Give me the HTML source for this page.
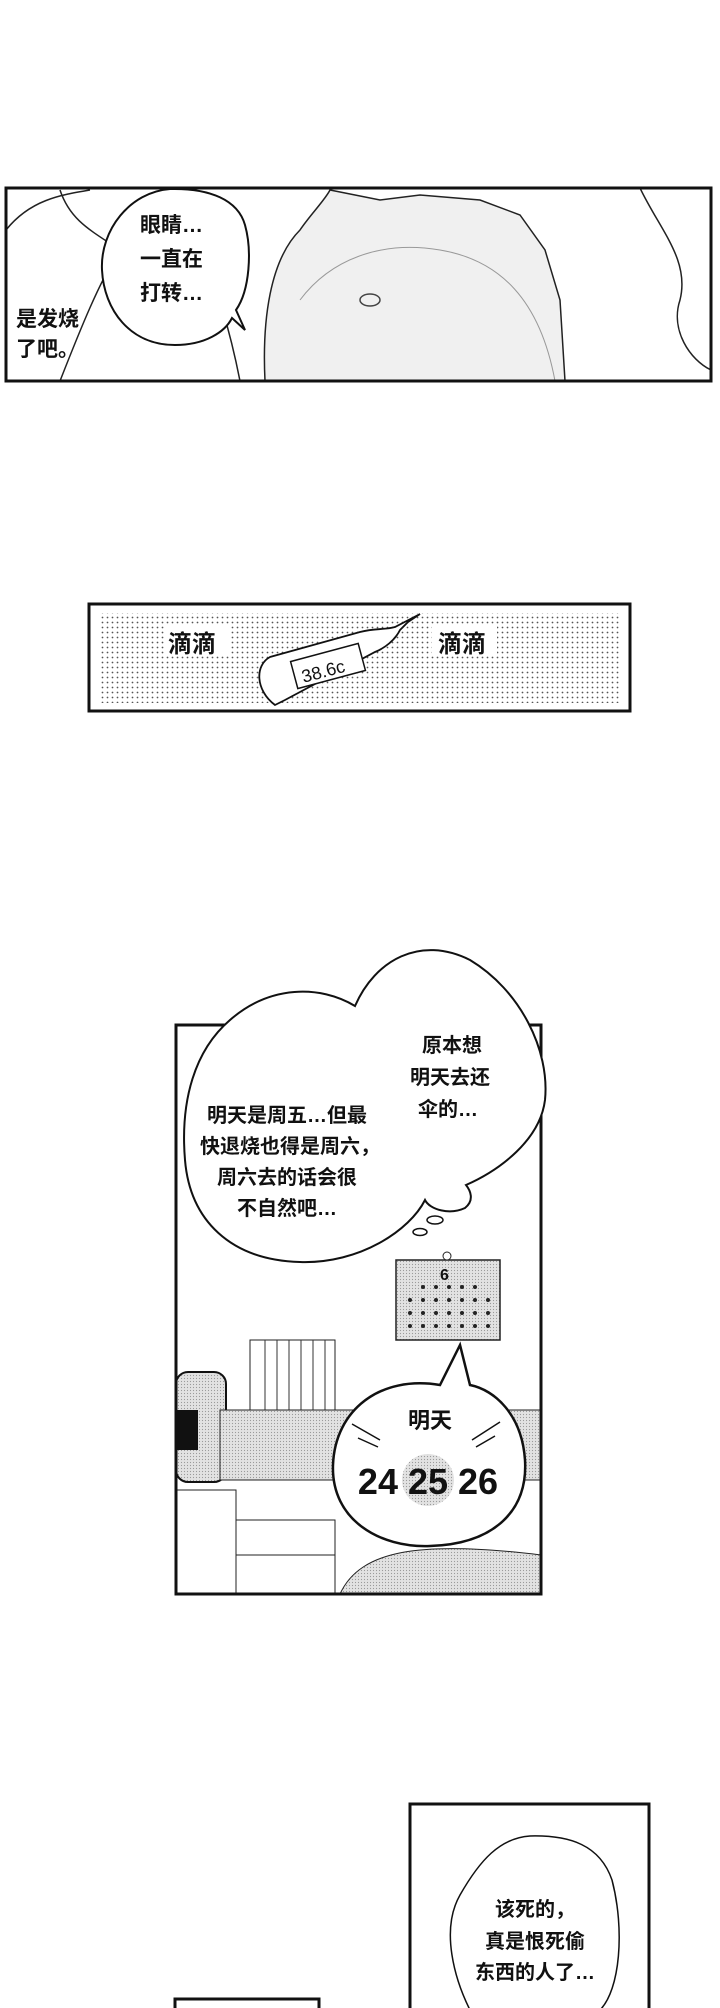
<!DOCTYPE html>
<html><head><meta charset="utf-8"><style>
html,body{margin:0;padding:0;background:#fff;}
svg{display:block;}
text{font-family:"Liberation Sans","Noto Sans CJK SC",sans-serif;fill:#111;}
</style></head><body>
<svg width="720" height="2008" viewBox="0 0 720 2008" xmlns="http://www.w3.org/2000/svg">
<defs>
<pattern id="dots" width="5" height="5" patternUnits="userSpaceOnUse"><circle cx="2.5" cy="2.5" r="0.9" fill="#555"/></pattern>
<pattern id="gray" width="3" height="3" patternUnits="userSpaceOnUse"><rect width="3" height="3" fill="#e2e2e2"/><circle cx="1.5" cy="1.5" r="0.6" fill="#999"/></pattern>
<clipPath id="c1"><rect x="6" y="188" width="705" height="193"/></clipPath>
<clipPath id="c3"><rect x="176" y="1025" width="365" height="569"/></clipPath>
</defs>
<!-- Panel 1 -->
<g clip-path="url(#c1)">
<rect x="6" y="188" width="705" height="193" fill="#fff"/>
<path d="M265 381 C262 320 270 260 300 230 C310 215 325 200 330 190 L380 200 L420 195 L480 200 L520 215 L545 250 L560 300 L565 381 Z" fill="#f0f0f0" stroke="#222" stroke-width="1.5"/>
<path d="M300 300 C330 260 380 240 440 250 C500 260 540 300 555 381" fill="none" stroke="#999"/>
<ellipse cx="370" cy="300" rx="10" ry="6" fill="none" stroke="#444" stroke-width="1.5"/>
<path d="M640 188 C660 230 690 260 680 300 C670 330 690 360 711 370" fill="none" stroke="#222" stroke-width="1.5"/>
<path d="M6 230 C30 200 60 195 90 190 M60 381 C80 330 100 280 120 250 C90 230 70 220 60 190" fill="none" stroke="#222" stroke-width="1.5"/>
<path d="M240 381 C230 330 215 280 200 250" fill="none" stroke="#222" stroke-width="1.5"/>
</g>
<path d="M170 189 C130 192 100 230 102 270 C104 310 130 345 175 345 C205 345 225 332 232 318 L245 330 L236 310 C250 290 252 250 245 225 C238 200 210 188 170 189 Z" fill="#fff" stroke="#111" stroke-width="2"/>
<rect x="6" y="188" width="705" height="193" fill="none" stroke="#111" stroke-width="3"/>
<g font-size="21" font-weight="bold">
<text x="140" y="232">眼睛…</text>
<text x="140" y="266">一直在</text>
<text x="140" y="300">打转…</text>
<text x="16" y="326">是发烧</text>
<text x="16" y="356">了吧。</text>
</g>
<!-- Panel 2 -->
<rect x="89" y="604" width="541" height="107" fill="#fff" stroke="#111" stroke-width="3"/>
<rect x="100" y="613" width="520" height="90" fill="url(#dots)"/>
<rect x="165" y="625" width="65" height="30" fill="#fff"/>
<rect x="432" y="625" width="65" height="30" fill="#fff"/>
<path d="M275 705 C255 690 255 665 270 657 L360 632 C375 628 385 630 395 627 L420 614 L408 622 L400 630 C395 640 385 648 375 652 L285 700 Z" fill="#fff" stroke="#111" stroke-width="1.8"/>
<rect x="293" y="652" width="70" height="28" transform="rotate(-15 328 666)" fill="#fff" stroke="#111" stroke-width="1.5"/>
<text x="300" y="676" font-size="18" transform="rotate(-15 328 666)" font-family="Liberation Mono">38.6c</text>
<g font-size="24" font-weight="bold"><text x="168" y="652">滴滴</text><text x="438" y="652">滴滴</text></g>
<!-- Panel 3 -->
<g clip-path="url(#c3)">
<rect x="176" y="1025" width="365" height="569" fill="#fff"/>
<rect x="250" y="1340" width="85" height="70" fill="#fff" stroke="#222"/>
<path d="M265 1340 V1410 M277 1340 V1410 M289 1340 V1410 M301 1340 V1410 M313 1340 V1410 M325 1340 V1410" stroke="#333"/>
<rect x="176" y="1372" width="50" height="110" rx="12" fill="url(#gray)" stroke="#111" stroke-width="2"/>
<rect x="176" y="1410" width="22" height="40" fill="#111"/>
<rect x="220" y="1410" width="321" height="70" fill="url(#gray)" stroke="#222"/>
<rect x="235" y="1520" width="100" height="74" fill="#fff" stroke="#222"/>
<line x1="235" y1="1555" x2="335" y2="1555" stroke="#222"/>
<rect x="176" y="1490" width="60" height="104" fill="#fff" stroke="#222"/>
<path d="M340 1594 C360 1550 420 1540 541 1555 V1594 Z" fill="url(#gray)" stroke="#222"/>
<rect x="396" y="1260" width="104" height="80" fill="url(#gray)" stroke="#222" stroke-width="1.5"/>
<circle cx="447" cy="1256" r="4" fill="#fff" stroke="#222"/>
<text x="440" y="1280" font-size="16" font-weight="bold">6</text>
<g fill="#222">
<circle cx="410" cy="1300" r="2"/><circle cx="423" cy="1300" r="2"/><circle cx="436" cy="1300" r="2"/><circle cx="449" cy="1300" r="2"/><circle cx="462" cy="1300" r="2"/><circle cx="475" cy="1300" r="2"/><circle cx="488" cy="1300" r="2"/>
<circle cx="410" cy="1313" r="2"/><circle cx="423" cy="1313" r="2"/><circle cx="436" cy="1313" r="2"/><circle cx="449" cy="1313" r="2"/><circle cx="462" cy="1313" r="2"/><circle cx="475" cy="1313" r="2"/><circle cx="488" cy="1313" r="2"/>
<circle cx="410" cy="1326" r="2"/><circle cx="423" cy="1326" r="2"/><circle cx="436" cy="1326" r="2"/><circle cx="449" cy="1326" r="2"/><circle cx="462" cy="1326" r="2"/><circle cx="475" cy="1326" r="2"/><circle cx="488" cy="1326" r="2"/>
<circle cx="423" cy="1287" r="2"/><circle cx="436" cy="1287" r="2"/><circle cx="449" cy="1287" r="2"/><circle cx="462" cy="1287" r="2"/><circle cx="475" cy="1287" r="2"/>
</g>
</g>
<rect x="176" y="1025" width="365" height="569" fill="none" stroke="#111" stroke-width="3"/>
<!-- big thought bubble -->
<path d="M355 1006 C320 985 270 985 230 1020 C195 1050 180 1100 185 1160 C190 1220 230 1260 300 1262 C360 1264 410 1230 425 1200 C430 1210 450 1215 465 1208 C475 1200 470 1190 466 1185 C500 1170 540 1140 545 1100 C550 1050 520 990 470 960 C420 935 375 960 355 1006 Z" fill="#fff" stroke="#111" stroke-width="2"/>
<ellipse cx="435" cy="1220" rx="8" ry="4" fill="#fff" stroke="#111" stroke-width="1.5"/>
<ellipse cx="420" cy="1232" rx="7" ry="3.5" fill="#fff" stroke="#111" stroke-width="1.5"/>
<g font-size="20" font-weight="bold" text-anchor="middle">
<text x="452" y="1052">原本想</text>
<text x="450" y="1084">明天去还</text>
<text x="448" y="1116">伞的…</text>
<text x="287" y="1122">明天是周五…但最</text>
<text x="290" y="1153">快退烧也得是周六，</text>
<text x="287" y="1184">周六去的话会很</text>
<text x="287" y="1215">不自然吧…</text>
</g>
<!-- round bubble -->
<path d="M460 1345 L440 1385 C380 1375 335 1410 333 1465 C331 1520 380 1548 430 1546 C495 1544 528 1510 525 1460 C522 1415 495 1390 470 1385 Z" fill="#fff" stroke="#111" stroke-width="2.5"/>
<circle cx="428" cy="1480" r="26" fill="url(#gray)"/>
<path d="M352 1424 L380 1440 M358 1438 L378 1447 M500 1422 L472 1440 M495 1436 L476 1447" stroke="#111" stroke-width="1.5"/>
<text x="430" y="1428" font-size="22" font-weight="bold" text-anchor="middle">明天</text>
<text x="428" y="1494" font-size="36" font-weight="bold" text-anchor="middle">24 25 26</text>
<!-- Panel 4 -->
<rect x="410" y="1804" width="239" height="220" fill="#fff" stroke="#111" stroke-width="3"/>
<path d="M530 1836 C570 1835 600 1845 612 1880 C625 1930 620 1990 600 2010 L470 2010 C455 1980 440 1930 460 1895 C480 1860 500 1838 530 1836 Z" fill="#fff" stroke="#111" stroke-width="1.5"/>
<g font-size="20" font-weight="bold" text-anchor="middle">
<text x="535" y="1916">该死的，</text>
<text x="535" y="1948">真是恨死偷</text>
<text x="535" y="1979">东西的人了…</text>
</g>
<!-- Panel 5 -->
<rect x="175" y="1999" width="144" height="20" fill="#fff" stroke="#111" stroke-width="3"/>
</svg>
</body></html>
